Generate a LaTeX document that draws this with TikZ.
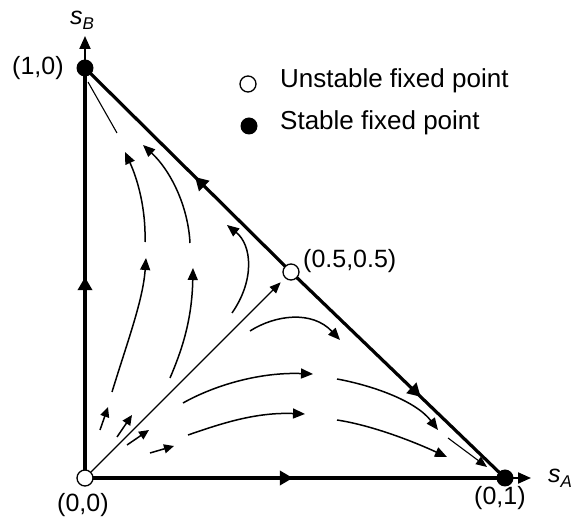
\documentclass[tikz,border=0pt]{standalone}
\usepackage{fontspec}
\setmainfont{Liberation Sans}
\usetikzlibrary{arrows.meta,decorations.markings}
\begin{document}
\begin{tikzpicture}[x=1pt,y=-1pt,
  lbl/.style={inner sep=0pt, anchor=base west, font=\fontsize{25}{29}\selectfont},
  axisline/.style={line width=4pt},
  axisext/.style={line width=2pt, -{Triangle[length=13pt,width=11pt]}},
  hyp/.style={line width=3.2pt},
  traj/.style={line width=1.5pt, -{Triangle[length=12pt,width=10pt]}},
  smallarr/.style={line width=1.5pt, -{Triangle[length=10pt,width=9pt]}},
  thinline/.style={line width=1.1pt},
  opendot/.style={circle, draw, fill=white, line width=1.3pt, minimum size=16pt, inner sep=0pt},
  fulldot/.style={circle, fill=black, minimum size=17pt, inner sep=0pt},
  midarrow/.style={postaction={decorate}, decoration={markings, mark=at position #1 with {\arrow{Triangle[length=13pt,width=14pt]}}}},
]
\useasboundingbox (0,0) rectangle (571,518);

% key points
\coordinate (O) at (85,478);
\coordinate (B) at (85,68);
\coordinate (A) at (505,478);
\coordinate (M) at (291,272);
\coordinate (ytip) at (85,36);
\coordinate (xtip) at (531,478);

% trajectories
\draw[traj] (112,392) .. controls (128,340) and (143,300) .. (146,258);
\draw[traj] (145,242) .. controls (146,210) and (138,180) .. (125,152);
\draw[traj] (170,378) .. controls (182,350) and (192,320) .. (193,268);
\draw[traj] (190,243) .. controls (188,205) and (170,170) .. (143,145);
\draw[thinline] (117,133) -- (88,82);
\draw[traj] (232,313) .. controls (255,280) and (252,245) .. (227,225);
\draw[smallarr] (100,430) -- (108,407);
\draw[smallarr] (117,437) -- (132,415);
\draw[smallarr] (127,445) -- (149,430);
\draw[smallarr] (150,453) -- (174,446);
\draw[traj] (183,403) .. controls (215,385) and (260,372) .. (313,374);
\draw[traj] (337,379) .. controls (370,385) and (415,400) .. (438,430);
\draw[traj] (188,435) .. controls (220,424) and (255,412) .. (305,414);
\draw[traj] (337,420) .. controls (370,425) and (410,440) .. (447,457);
\draw[thinline, -{Triangle[length=11pt,width=9pt]}] (448,438) -- (487,467);
\draw[traj] (250,331) .. controls (275,315) and (312,310) .. (340,340);

% axes and edges
\draw[axisline, midarrow=0.49] (O) -- (B);
\draw[axisline, midarrow=0.495] (O) -- (A);
\draw[axisext] (B) -- (ytip);
\draw[axisext] (A) -- (xtip);
\draw[hyp, midarrow=0.466] (M) -- (B);
\draw[hyp, midarrow=0.606] (M) -- (A);

% fixed points
\node[fulldot] (Bc) at (B) {};
\node[fulldot] (Ac) at (A) {};
\node[opendot] (Oc) at (O) {};
\node[opendot] (Mc) at (M) {};
\draw[thinline, -{Triangle[length=11pt,width=9pt]}, shorten >=6pt] (Oc) -- (Mc);

% labels
\node[lbl] (lB) at (12,75) {(1,0)};
\node[lbl] (lO) at (57,512) {(0,0)};
\node[lbl] (lA) at (474,505) {(0,1)};
\node[lbl] (lM) at (303,268) {(0.5,0.5)};
\node[lbl] (sB) at (70,25) {\textit{s}\raisebox{-5pt}{\fontsize{17}{17}\selectfont\textit{B}}};
\node[lbl] (sA) at (548,483) {\textit{s}\raisebox{-5pt}{\fontsize{17}{17}\selectfont\textit{A}}};

% legend
\node[opendot] (lu) at (248,84) {};
\node[fulldot] (ls) at (249,126) {};
\node[lbl, font=\fontsize{26}{30}\selectfont] (tu) at (280,88) {Unstable fixed point};
\node[lbl, font=\fontsize{26}{30}\selectfont] (ts) at (280,130) {Stable fixed point};
\end{tikzpicture}
\end{document}
